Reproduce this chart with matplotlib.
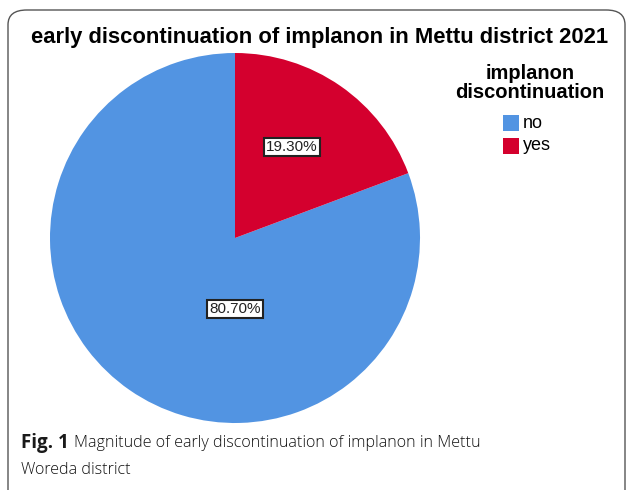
import matplotlib.pyplot as plt
from matplotlib.patches import FancyBboxPatch

categories = ['no', 'yes']
shares = [80.7, 19.3]
pct_labels = ['80.70%', '19.30%']
colors = ['#5294e2', '#d4002e']

title = 'early discontinuation of implanon in Mettu district 2021'
legend_title = 'implanon\ndiscontinuation'

W, H = 627, 490
fig = plt.figure(figsize=(W / 100, H / 100), dpi=100)

# rounded frame around the figure panel
frame = FancyBboxPatch((8 / W, -0.05), (625 - 8) / W, (H - 10) / H + 0.05,
                       boxstyle='round,pad=0,rounding_size=0.03',
                       transform=fig.transFigure, fill=False,
                       edgecolor='#555555', linewidth=1.0)
fig.patches.append(frame)

# pie: centre (235, 238), radius 185 px
cx, cy, r = 235, 238, 185
ax = fig.add_axes([(cx - r) / W, (H - cy - r) / H, 2 * r / W, 2 * r / H])
wedges, _ = ax.pie(shares, colors=colors, startangle=90, counterclock=True,
                   radius=1.0)
ax.set_xlim(-1, 1)
ax.set_ylim(-1, 1)
ax.set_aspect('auto')
ax.axis('off')

label_pos = [((235 - cx) / r, (cy - 309) / r), ((292 - cx) / r, (cy - 147) / r)]
for (x, y), lab in zip(label_pos, pct_labels):
    ax.text(x, y, lab, ha='center', va='center', fontsize=11,
            family='Liberation Sans', color='#222222',
            bbox=dict(boxstyle='square,pad=0.15', fc='white', ec='#222222', lw=1.5))

fig.text(320 / W, 1 - 37 / H, title, ha='center', va='center',
         fontsize=15.8, fontweight='bold', family='Liberation Sans')

fig.text(530 / W, 1 - 83 / H, legend_title, ha='center', va='center',
         fontsize=14.5, fontweight='bold', family='Liberation Sans', linespacing=0.95)

leg_y = [123.5, 146]
for c, lab, y in zip(colors, categories, leg_y):
    fig.patches.append(plt.Rectangle((503 / W, 1 - (y + 8) / H), 16 / W, 16 / H,
                                     transform=fig.transFigure, fc=c, ec='none'))
    fig.text(523 / W, 1 - y / H, lab, ha='left', va='center', fontsize=13,
             family='Liberation Sans')

# caption below the chart
fig.text(21 / W, 1 - 443 / H, 'Fig. 1', ha='left', va='center', fontsize=13.5,
         fontweight='bold', family='Open Sans', color='#1a1a1a')
fig.text(74 / W, 1 - 443 / H, 'Magnitude of early discontinuation of implanon in Mettu',
         ha='left', va='center', fontsize=11.6, family='Open Sans',
         fontweight='light', color='#111111')
fig.text(21 / W, 1 - 470 / H, 'Woreda district', ha='left', va='center',
         fontsize=11.6, family='Open Sans', fontweight='light', color='#111111')

fig.savefig('out.png', dpi=100)
